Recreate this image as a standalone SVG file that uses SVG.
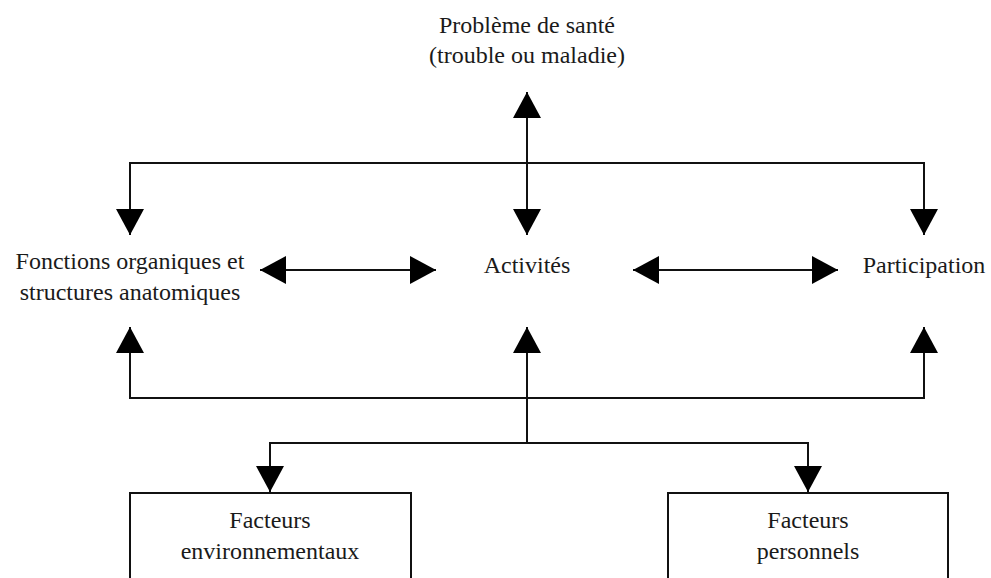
<svg xmlns="http://www.w3.org/2000/svg" width="991" height="578" viewBox="0 0 991 578">
<style>
.t{font-family:"Liberation Serif","Times New Roman",serif;font-size:24px;fill:#1a1a1a;text-anchor:middle}
.c{fill:none;stroke:#111;stroke-width:2;marker-start:url(#ah);marker-end:url(#ah)}
.c1{fill:none;stroke:#111;stroke-width:2;marker-end:url(#ah)}
.box{fill:#fff;stroke:#111;stroke-width:2}
</style>
<defs>
<marker id="ah" viewBox="0 0 26 28" refX="26" refY="14" markerWidth="26" markerHeight="28" markerUnits="userSpaceOnUse" orient="auto-start-reverse">
<path d="M0,0 L26,14 L0,28 Z" fill="#000"/>
</marker>
</defs>
<rect width="991" height="578" fill="#fff"/>
<g id="connectors">
<path class="c" d="M527,235 V92"/>
<path class="c" d="M130,235 V163 H924 V235"/>
<path class="c" d="M260,270 H436"/>
<path class="c" d="M633,270 H838"/>
<path class="c" d="M130,327 V398 H924 V327"/>
<path class="c1" d="M527,443 V327"/>
<path class="c" d="M270,492 V443 H808 V492"/>
</g>
<g id="probleme">
<text class="t" x="527" y="33">Problème de santé</text>
<text class="t" x="527" y="63">(trouble ou maladie)</text>
</g>
<g id="fonctions">
<text class="t" x="130" y="269">Fonctions organiques et</text>
<text class="t" x="130" y="300">structures anatomiques</text>
</g>
<g id="activites">
<text class="t" x="527" y="273">Activités</text>
</g>
<g id="participation">
<text class="t" x="924" y="273">Participation</text>
</g>
<g id="env">
<rect class="box" x="130" y="493" width="281" height="100"/>
<text class="t" x="270" y="528">Facteurs</text>
<text class="t" x="270" y="559">environnementaux</text>
</g>
<g id="pers">
<rect class="box" x="668" y="493" width="280" height="100"/>
<text class="t" x="808" y="528">Facteurs</text>
<text class="t" x="808" y="559">personnels</text>
</g>
</svg>
